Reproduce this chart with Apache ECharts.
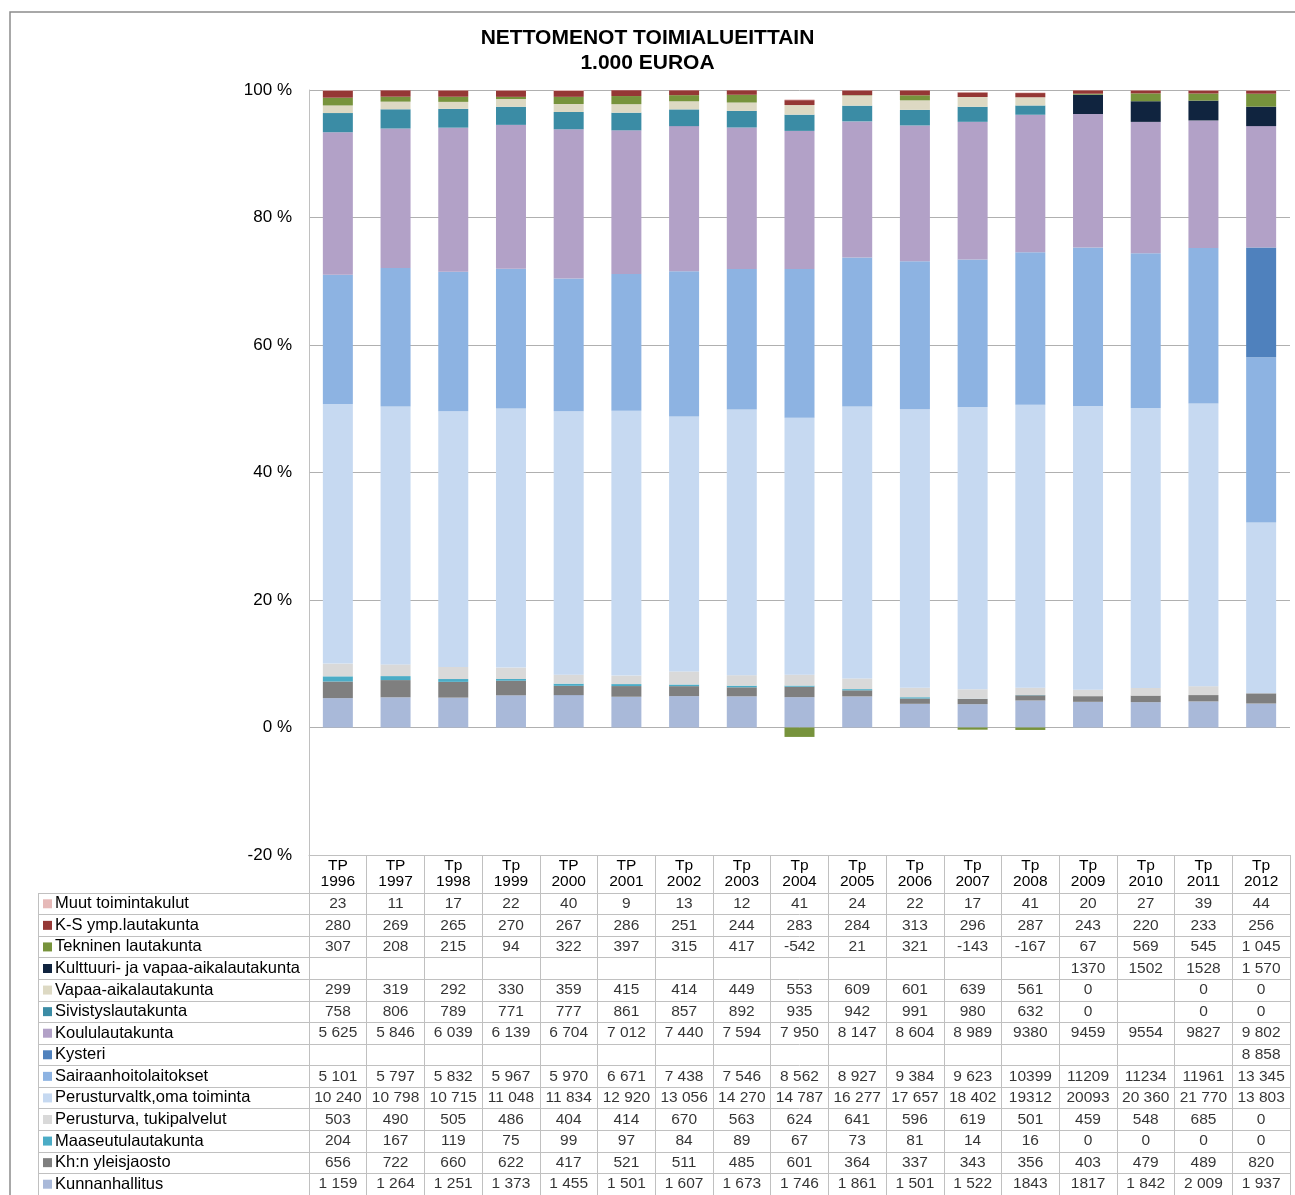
<!DOCTYPE html>
<html>
<head>
<meta charset="utf-8">
<title>Nettomenot toimialueittain</title>
<script src="https://cdn.jsdelivr.net/npm/echarts@6/dist/echarts.min.js"></script>
<style>
  html, body { margin: 0; padding: 0; background: #fff; }
  #chart { width: 1295px; height: 1195px; }
</style>
</head>
<body>
<div id="chart"></div>
<script>
// vuodet (x-akselin otsikot)
var years = ['TP\n1996', 'TP\n1997', 'Tp\n1998', 'Tp\n1999', 'TP\n2000', 'TP\n2001', 'Tp\n2002', 'Tp\n2003',
  'Tp\n2004', 'Tp\n2005', 'Tp\n2006', 'Tp\n2007', 'Tp\n2008', 'Tp\n2009', 'Tp\n2010', 'Tp\n2011', 'Tp\n2012']

// taulukon solut sellaisenaan (tyhjä = ei arvoa)
var kunnanhallitus = ['1 159', '1 264', '1 251', '1 373', '1 455', '1 501', '1 607', '1 673', '1 746', '1 861', '1 501', '1 522', '1843', '1817', '1 842', '2 009', '1 937']
var khYleisjaosto = ['656', '722', '660', '622', '417', '521', '511', '485', '601', '364', '337', '343', '356', '403', '479', '489', '820']
var maaseutu = ['204', '167', '119', '75', '99', '97', '84', '89', '67', '73', '81', '14', '16', '0', '0', '0', '0']
var perusturvaTuki = ['503', '490', '505', '486', '404', '414', '670', '563', '624', '641', '596', '619', '501', '459', '548', '685', '0']
var perusturvaOma = ['10 240', '10 798', '10 715', '11 048', '11 834', '12 920', '13 056', '14 270', '14 787', '16 277', '17 657', '18 402', '19312', '20093', '20 360', '21 770', '13 803']
var sairaanhoito = ['5 101', '5 797', '5 832', '5 967', '5 970', '6 671', '7 438', '7 546', '8 562', '8 927', '9 384', '9 623', '10399', '11209', '11234', '11961', '13 345']
var kysteri = ['', '', '', '', '', '', '', '', '', '', '', '', '', '', '', '', '8 858']
var koulu = ['5 625', '5 846', '6 039', '6 139', '6 704', '7 012', '7 440', '7 594', '7 950', '8 147', '8 604', '8 989', '9380', '9459', '9554', '9827', '9 802']
var sivistys = ['758', '806', '789', '771', '777', '861', '857', '892', '935', '942', '991', '980', '632', '0', '', '0', '0']
var vapaaAika = ['299', '319', '292', '330', '359', '415', '414', '449', '553', '609', '601', '639', '561', '0', '', '0', '0']
var kulttuuri = ['', '', '', '', '', '', '', '', '', '', '', '', '', '1370', '1502', '1528', '1 570']
var tekninen = ['307', '208', '215', '94', '322', '397', '315', '417', '-542', '21', '321', '-143', '-167', '67', '569', '545', '1 045']
var ksYmp = ['280', '269', '265', '270', '267', '286', '251', '244', '283', '284', '313', '296', '287', '243', '220', '233', '256']
var muut = ['23', '11', '17', '22', '40', '9', '13', '12', '41', '24', '22', '17', '41', '20', '27', '39', '44']

// pinon järjestys alhaalta ylös
var rows = [
  { name: 'Kunnanhallitus', color: '#a9b9d9', cells: kunnanhallitus },
  { name: 'Kh:n yleisjaosto', color: '#7f7f7f', cells: khYleisjaosto },
  { name: 'Maaseutulautakunta', color: '#4bacc6', cells: maaseutu },
  { name: 'Perusturva, tukipalvelut', color: '#d9d9d9', cells: perusturvaTuki },
  { name: 'Perusturvaltk,oma toiminta', color: '#c6d9f1', cells: perusturvaOma },
  { name: 'Sairaanhoitolaitokset', color: '#8db3e2', cells: sairaanhoito },
  { name: 'Kysteri', color: '#4f81bd', cells: kysteri },
  { name: 'Koululautakunta', color: '#b2a1c7', cells: koulu },
  { name: 'Sivistyslautakunta', color: '#3b8ca5', cells: sivistys },
  { name: 'Vapaa-aikalautakunta', color: '#ddd9c3', cells: vapaaAika },
  { name: 'Kulttuuri- ja vapaa-aikalautakunta', color: '#10243f', cells: kulttuuri },
  { name: 'Tekninen lautakunta', color: '#77933c', cells: tekninen },
  { name: 'K-S ymp.lautakunta', color: '#953735', cells: ksYmp },
  { name: 'Muut toimintakulut', color: '#e6b9b8', cells: muut }
]

function num(s) {
  if (s === '') return 0
  return parseFloat(s.replace(/\s/g, ''))
}

// 100 % pino: osuus itseisarvojen summasta
var totals = years.map(function (y, i) {
  var t = 0
  rows.forEach(function (r) { t += Math.abs(num(r.cells[i])) })
  return t
})

var barSeries = rows.map(function (r) {
  return {
    name: r.name,
    type: 'bar',
    stack: 'total',
    xAxisIndex: 0,
    yAxisIndex: 0,
    barWidth: 30,
    itemStyle: { color: r.color },
    data: r.cells.map(function (c, i) { return num(c) / totals[i] * 100 })
  }
})

// taulukko ylhäältä alas
var tableRows = rows.slice().reverse()
var rich = {}
tableRows.forEach(function (r, i) {
  rich['s' + i] = { backgroundColor: r.color, width: 9, height: 9 }
})
rich.t = { fontSize: 16.5, color: '#000', padding: [0, 0, 0, 3] }

var cellData = []
tableRows.forEach(function (r, ri) {
  r.cells.forEach(function (c, ci) {
    if (c !== '') cellData.push([ci, ri, c])
  })
})

var lineColor = '#c0c0c0'
var chart = echarts.init(document.getElementById('chart'))
chart.setOption({
  animation: false,
  textStyle: { fontFamily: 'Liberation Sans, Arial, sans-serif' },
  title: {
    text: 'NETTOMENOT TOIMIALUEITTAIN\n1.000 EUROA',
    left: 'center',
    top: 21,
    textStyle: { fontSize: 21, fontWeight: 'bold', color: '#000', lineHeight: 25 }
  },
  graphic: [
    { type: 'rect', shape: { x: 10, y: 12, width: 1300, height: 1200 }, style: { fill: 'none', stroke: '#8c8c8c', lineWidth: 1.5 }, silent: true },
    { type: 'line', shape: { x1: 38.5, y1: 893, x2: 38.5, y2: 1195 }, style: { stroke: lineColor, lineWidth: 1 }, silent: true }
  ],
  grid: [
    { left: 309, right: 5, top: 90, height: 765 },
    { left: 309, right: 5, top: 893, height: 302 }
  ],
  xAxis: [
    {
      gridIndex: 0,
      type: 'category',
      data: years,
      axisLine: { onZero: false, lineStyle: { color: lineColor } },
      axisTick: { show: true, length: 38, interval: 0, lineStyle: { color: lineColor } },
      axisLabel: { interval: 0, fontSize: 15.5, lineHeight: 16, color: '#000', margin: 3 }
    },
    {
      gridIndex: 1,
      type: 'category',
      data: years,
      axisLine: { show: false },
      axisTick: { show: false },
      axisLabel: { show: false },
      splitLine: { show: true, interval: 0, lineStyle: { color: lineColor } }
    }
  ],
  yAxis: [
    {
      gridIndex: 0,
      type: 'value',
      min: -20,
      max: 100,
      interval: 20,
      axisLine: { show: true, lineStyle: { color: lineColor } },
      axisLabel: { formatter: '{value} %', fontSize: 17, color: '#000', margin: 17 },
      splitLine: { lineStyle: { color: '#b0b0b0' } }
    },
    {
      gridIndex: 1,
      type: 'category',
      inverse: true,
      data: tableRows.map(function (r) { return r.name }),
      axisLine: { show: true, lineStyle: { color: lineColor } },
      axisTick: { show: true, length: 271, interval: 0, lineStyle: { color: lineColor } },
      splitLine: { show: true, interval: 0, lineStyle: { color: lineColor } },
      axisLabel: {
        interval: 0,
        align: 'left',
        margin: 266,
        formatter: function (v, i) { return '{s' + i + '|}{t|' + v + '}' },
        rich: rich
      }
    }
  ],
  series: barSeries.concat([
    {
      name: 'taulukko',
      type: 'scatter',
      xAxisIndex: 1,
      yAxisIndex: 1,
      symbolSize: 1,
      itemStyle: { color: 'rgba(0,0,0,0)' },
      label: {
        show: true,
        position: 'inside',
        fontSize: 15.5,
        color: '#000',
        formatter: function (p) { return p.data[2] }
      },
      data: cellData
    }
  ])
})
</script>
</body>
</html>
